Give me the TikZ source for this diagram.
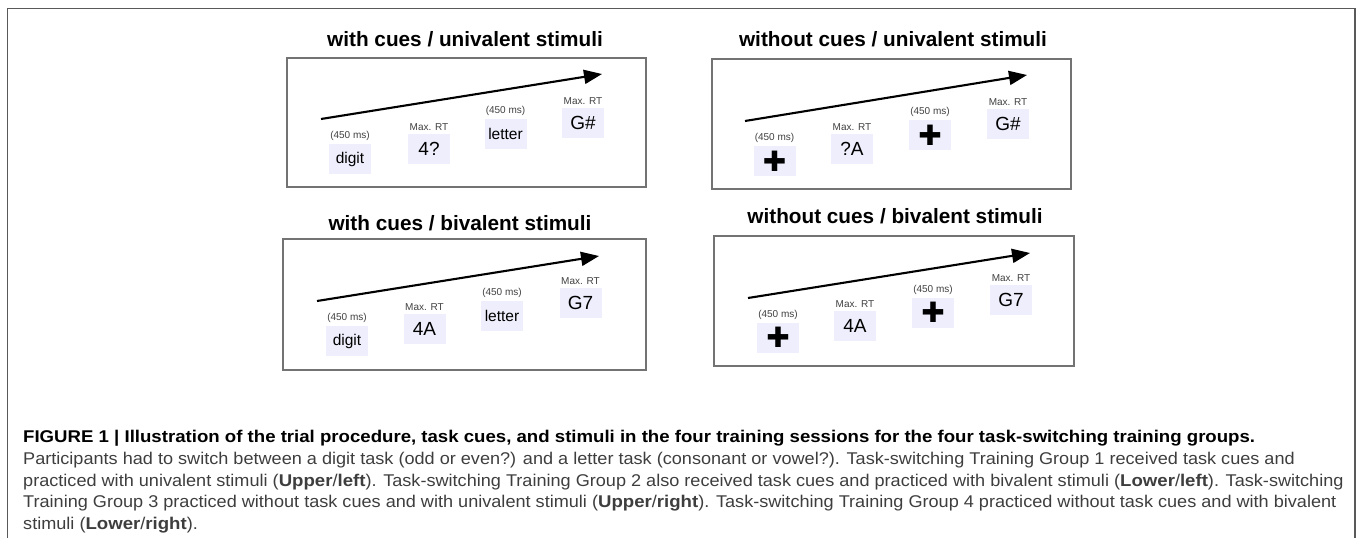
\documentclass[tikz,border=0pt]{standalone}
\usepackage{fontspec}
\setmainfont{Liberation Sans}
\newfontfamily\symfont{DejaVu Sans}
\newfontfamily\capfont[FakeStretch=1.065,BoldFeatures={FakeStretch=1.095}]{Liberation Sans}
\usetikzlibrary{arrows.meta}
\definecolor{cuefill}{RGB}{238,238,252}
\definecolor{capgray}{RGB}{62,62,62}
\newcommand{\fixcross}{{\symfont\fontsize{28}{28}\selectfont ✚}}

\begin{document}
\begin{tikzpicture}[x=1pt,y=-1pt,
    panel/.style={draw=black!55,line width=1.1pt},
    heading/.style={anchor=base,font=\fontsize{20.75}{24}\selectfont\bfseries},
    cue/.style={fill=cuefill,minimum width=42pt,minimum height=30pt,inner sep=0pt,font=\fontsize{15.5}{18}\selectfont},
    stim/.style={cue,font=\fontsize{19}{21}\selectfont},
    time/.style={-{Triangle[length=18pt,width=14pt]},line width=2.1pt},
    every label/.style={font=\fontsize{10}{11}\selectfont,text=black!75,inner sep=0pt},
    label distance=3pt]
    \useasboundingbox (0,0) rectangle (1357,538);
    \draw[black!65,line width=1.5pt] (7.5,538) -- (7.5,8.5) -- (1355,8.5) -- (1355,538);

    % upper left
    \node[heading] (ta) at (465,46) {with cues / univalent stimuli};
    \draw[panel] (287,58) rectangle (646,187);
    \node[cue,label=above:(450 ms)] (a1) at (350,159) {digit};
    \node[stim,label=above:Max. RT] (a2) at (429,149) {4?};
    \node[cue,label=above:(450 ms)] (a3) at (505.5,134) {letter};
    \node[stim,label=above:Max. RT] (a4) at (583,123) {G\#};
    \coordinate (as) at (321,119);
    \coordinate (ae) at (602,74);
    \path[time] (as) edge (ae);

    % upper right
    \node[heading] (tb) at (893,46) {without cues / univalent stimuli};
    \draw[panel] (712,59) rectangle (1071,189);
    \node[cue,label=above:(450 ms)] (b1) at (774.5,161) {\fixcross};
    \node[stim,label=above:Max. RT] (b2) at (852,149) {?A};
    \node[cue,label=above:(450 ms)] (b3) at (930,135) {\fixcross};
    \node[stim,label=above:Max. RT] (b4) at (1008,123.5) {G\#};
    \coordinate (bs) at (745,121);
    \coordinate (be) at (1027,75);
    \path[time] (bs) edge (be);

    % lower left
    \node[heading] (tc) at (460,230) {with cues / bivalent stimuli};
    \draw[panel] (283,239) rectangle (646,370);
    \node[cue,label=above:(450 ms)] (c1) at (347,341) {digit};
    \node[stim,label=above:Max. RT] (c2) at (424.5,329) {4A};
    \node[cue,label=above:(450 ms)] (c3) at (502,316) {letter};
    \node[stim,label=above:Max. RT] (c4) at (580.5,303) {G7};
    \coordinate (cs) at (317,301);
    \coordinate (ce) at (599,256);
    \path[time] (cs) edge (ce);

    % lower right
    \node[heading] (td) at (895,223) {without cues / bivalent stimuli};
    \draw[panel] (714,236) rectangle (1074,366);
    \node[cue,label=above:(450 ms)] (d1) at (778,337.5) {\fixcross};
    \node[stim,label=above:Max. RT] (d2) at (855,326) {4A};
    \node[cue,label=above:(450 ms)] (d3) at (933,312.5) {\fixcross};
    \node[stim,label=above:Max. RT] (d4) at (1011,300) {G7};
    \coordinate (ds) at (748,298);
    \coordinate (de) at (1030,253);
    \path[time] (ds) edge (de);

    % caption
    \node[anchor=north west,inner sep=0pt,align=left,text=capgray,
      font=\capfont\fontsize{17}{21.75}\selectfont] (cap) at (23,430)
    {\textcolor{black}{\bfseries FIGURE 1 | Illustration of the trial procedure, task cues, and stimuli in the four training sessions for the four task-switching training groups.}\\
     Participants had to switch between a digit task (odd or even?) and a letter task (consonant or vowel?). Task-switching Training Group 1 received task cues and\\
     practiced with univalent stimuli (\textbf{Upper}/\textbf{left}). Task-switching Training Group 2 also received task cues and practiced with bivalent stimuli (\textbf{Lower}/\textbf{left}). Task-switching\\
     Training Group 3 practiced without task cues and with univalent stimuli (\textbf{Upper}/\textbf{right}). Task-switching Training Group 4 practiced without task cues and with bivalent\\
     stimuli (\textbf{Lower}/\textbf{right}).};
\end{tikzpicture}
\end{document}
